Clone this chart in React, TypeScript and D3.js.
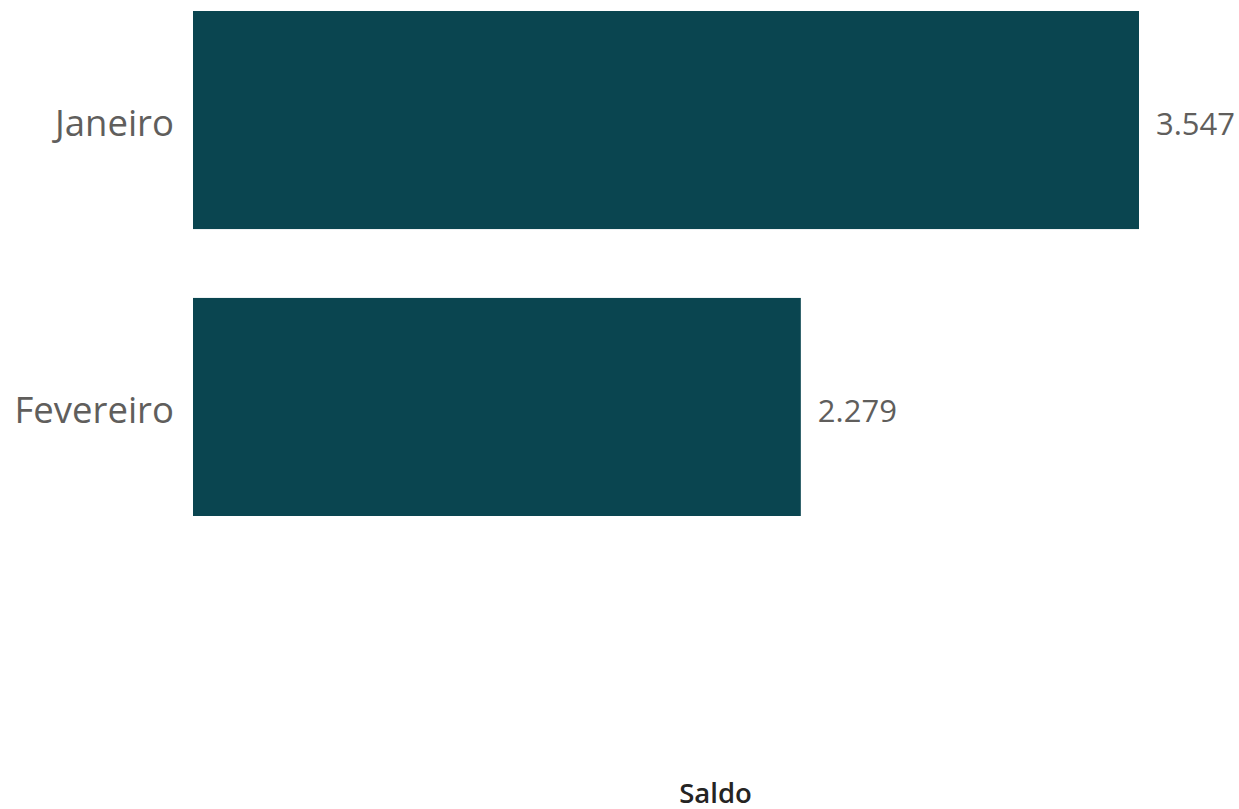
import React from "react";
import * as d3 from "d3";

const categories = ["Janeiro", "Fevereiro"];
const values = [3547, 2279];
const axisTitle = "Saldo";

const W = 1239;
const H = 809;

export default function App() {
  const x = d3.scaleLinear().domain([0, 3547]).range([193, 1139]);
  const y = d3.scaleBand<string>().domain(categories).range([11, 516]).paddingInner(0.24).paddingOuter(0);
  const fmt = (v: number) => d3.format(",")(v).replace(/,/g, ".");
  return (
    <svg width={W} height={H} style={{ position: "absolute", left: 0, top: 0, background: "#fff" }}>
      {categories.map((c, i) => {
        const yy = y(c)!;
        const bw = y.bandwidth();
        return (
          <g key={c}>
            <rect x={x(0)} y={yy} width={x(values[i]) - x(0)} height={bw} fill="#0A4550" />
            <text x={174} y={yy + bw / 2 + 16} textAnchor="end" fontFamily="'Open Sans', sans-serif" fontSize={36.5} fill="#605E5C">{c}</text>
            <text x={x(values[i]) + 17} y={yy + bw / 2 + 15} textAnchor="start" fontFamily="'Open Sans', sans-serif" fontSize={31} fill="#605E5C">{fmt(values[i])}</text>
          </g>
        );
      })}
      <text x={715.5} y={803} textAnchor="middle" fontFamily="'Open Sans', sans-serif" fontWeight={600} fontSize={27.5} fill="#252423">{axisTitle}</text>
    </svg>
  );
}
